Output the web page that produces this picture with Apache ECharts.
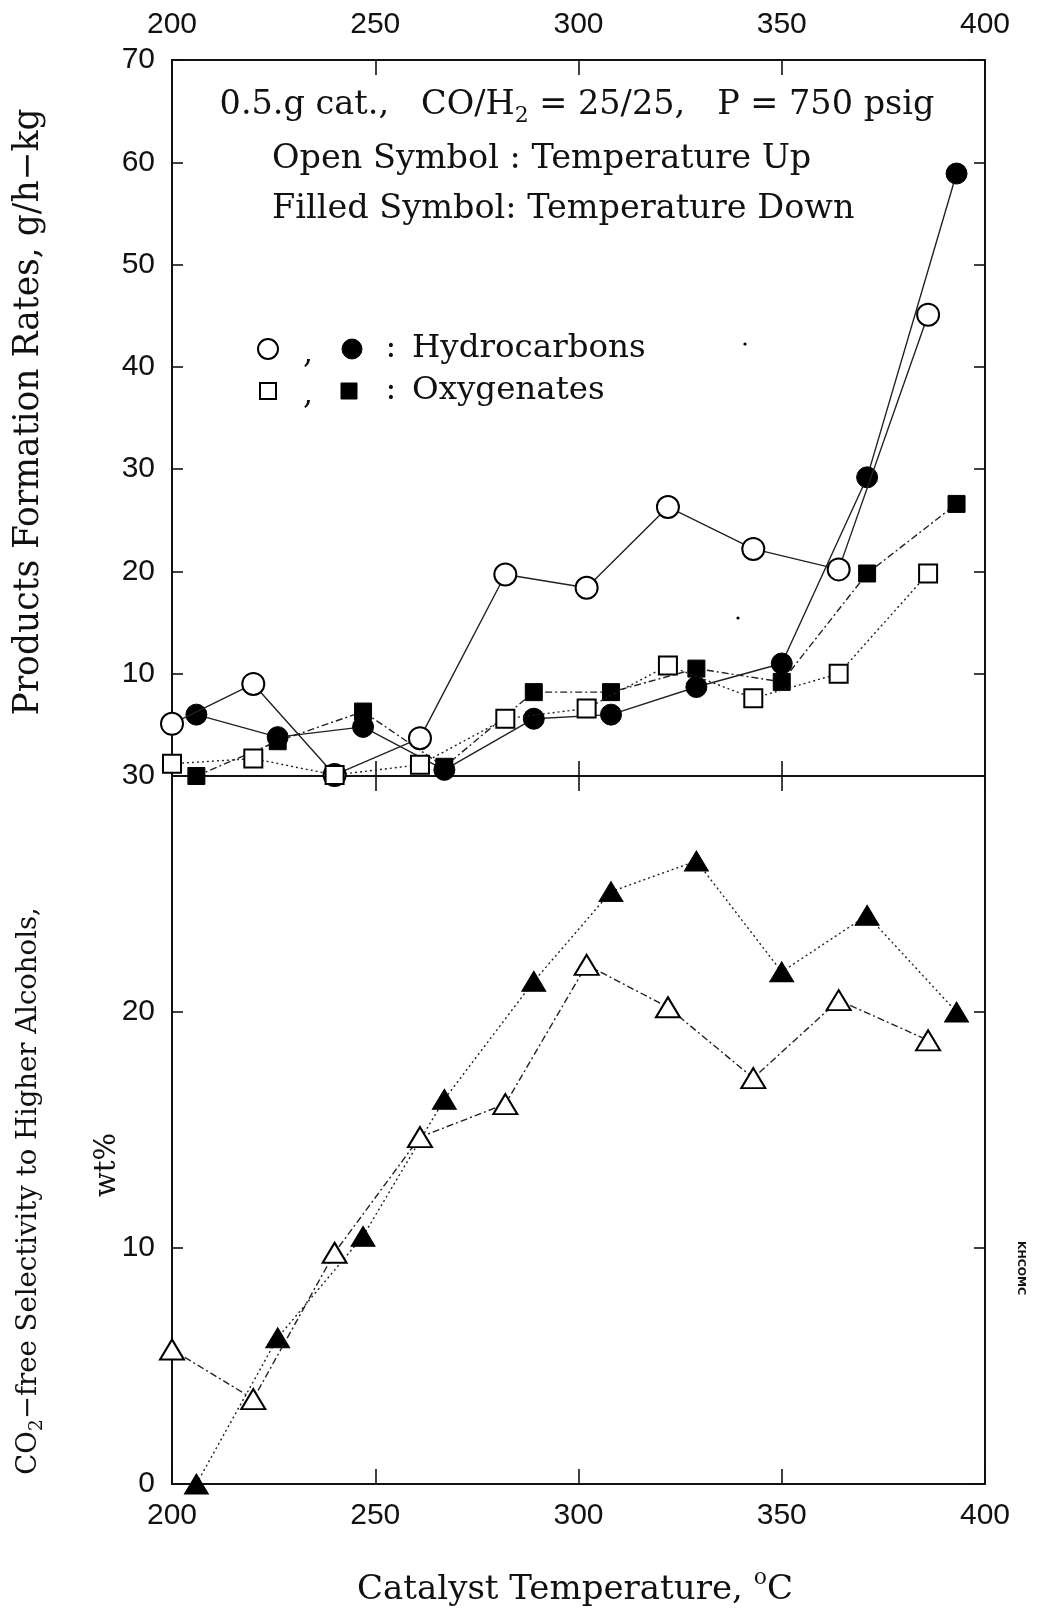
<!DOCTYPE html>
<html><head><meta charset="utf-8">
<script src="https://cdn.jsdelivr.net/npm/echarts@6/dist/echarts.min.js"></script>
<style>html,body{margin:0;padding:0;background:#fff}#c{width:1041px;height:1608px}</style>
</head><body><div id="c"></div>
<script>
// ---- data ----
const tempUp   = [200, 220, 240, 261, 282, 302, 322, 343, 364, 386];
const tempDown = [206, 226, 247, 267, 289, 308, 329, 350, 371, 393];
const hcUp     = [5.1, 9.0, 0.1, 3.7, 19.7, 18.4, 26.3, 22.2, 20.2, 45.1];
const hcDown   = [6.0, 3.8, 4.8, 0.6, 5.6, 6.0, 8.7, 11.0, 29.2, 58.9];
const oxyUp    = [1.2, 1.7, 0.1, 1.1, 5.6, 6.6, 10.8, 7.6, 10.0, 19.8];
const oxyDown  = [0.0, 3.4, 6.3, 0.9, 8.2, 8.2, 10.5, 9.2, 19.8, 26.6];
const selUp    = [5.7, 3.6, 9.8, 14.7, 16.1, 22.0, 20.2, 17.2, 20.5, 18.8];
const selDown  = [0.0, 6.2, 10.5, 16.3, 21.3, 25.1, 26.4, 21.7, 24.1, 20.0];
const xRange   = [200, 400, 50];
const rateRange = [0, 70, 10];
const selRange  = [0, 30, 10];

const pair = (xs, ys) => xs.map((x, i) => [x, ys[i]]);
const INK = '#111';
const TICKFONT = '"Liberation Sans Narrow", "Liberation Sans", sans-serif';
const SERIF = '"DejaVu Serif", serif';

function xAx(grid, pos, showLabel, margin) {
  return {
    type: 'value', gridIndex: grid, position: pos,
    min: xRange[0], max: xRange[1], interval: xRange[2],
    axisLine: { show: true, onZero: false, lineStyle: { color: INK, width: 2 } },
    axisTick: { show: true, inside: true, length: 15, lineStyle: { color: INK, width: 1.6 } },
    axisLabel: { show: showLabel, margin: margin || 8, fontSize: 30, color: INK, fontFamily: TICKFONT },
    splitLine: { show: false }
  };
}
function yAx(grid, pos, range, showLabel, hideZero) {
  return {
    type: 'value', gridIndex: grid, position: pos,
    min: range[0], max: range[1], interval: range[2],
    axisLine: { show: true, onZero: false, lineStyle: { color: INK, width: 2 } },
    axisTick: { show: true, inside: true, length: 11, lineStyle: { color: INK, width: 1.6 } },
    axisLabel: { show: showLabel, margin: 17, fontSize: 30, color: INK, fontFamily: TICKFONT,
      formatter: v => (hideZero && v === 0) ? '' : String(v) },
    splitLine: { show: false }
  };
}
function ser(name, xi, yi, xs, ys, symbol, size, filled, ltype) {
  return {
    name, type: 'line', xAxisIndex: xi, yAxisIndex: yi,
    data: pair(xs, ys), symbol, symbolSize: size, showAllSymbol: true,
    clip: false, animation: false, z: filled ? 3 : 4,
    itemStyle: filled ? { color: '#000', borderColor: '#000', borderWidth: 1 }
                      : { color: '#fff', borderColor: '#000', borderWidth: 2 },
    lineStyle: { color: '#222', width: 1.4, type: ltype },
    emphasis: { disabled: true }
  };
}

const chart = echarts.init(document.getElementById('c'), null, { renderer: 'canvas' });
chart.setOption({
  backgroundColor: '#fff',
  animation: false,
  grid: [
    { left: 172, right: 56, top: 60, height: 716 },
    { left: 172, right: 56, top: 776, height: 708 }
  ],
  xAxis: [
    xAx(0, 'top', true, 20),
    xAx(0, 'bottom', false),
    xAx(1, 'top', false),
    xAx(1, 'bottom', true, 17)
  ],
  yAxis: [
    yAx(0, 'left', rateRange, true, true),
    yAx(0, 'right', rateRange, false),
    yAx(1, 'left', selRange, true, false),
    yAx(1, 'right', selRange, false)
  ],
  series: [
    ser('Hydrocarbons (T up)', 0, 0, tempUp, hcUp, 'circle', 22, false, 'solid'),
    ser('Hydrocarbons (T down)', 0, 0, tempDown, hcDown, 'circle', 21, true, 'solid'),
    ser('Oxygenates (T up)', 0, 0, tempUp, oxyUp, 'rect', 18, false, [2, 3]),
    ser('Oxygenates (T down)', 0, 0, tempDown, oxyDown, 'rect', 17, true, [7, 3, 2, 3]),
    ser('Selectivity (T up)', 3, 2, tempUp, selUp, 'triangle', [24, 20], false, [7, 3, 2, 3]),
    ser('Selectivity (T down)', 3, 2, tempDown, selDown, 'triangle', [24, 20], true, [2, 3])
  ],
  graphic: [
    { type: 'text', x: 577, y: 105, z: 10, style: {
        text: '{a|0.5.g cat.,   CO/H}{s|2}{a| = 25/25,   P = 750 psig}',
        align: 'center', verticalAlign: 'middle',
        rich: { a: { fontSize: 33.5, fontFamily: SERIF, fill: INK },
                s: { fontSize: 22, fontFamily: SERIF, fill: INK, padding: [22, 0, 0, 0] } } } },
    { type: 'text', x: 272, y: 159, z: 10, style: { text: 'Open Symbol : Temperature Up',
        fontSize: 33.5, fontFamily: SERIF, fill: INK, align: 'left', verticalAlign: 'middle' } },
    { type: 'text', x: 272, y: 209, z: 10, style: { text: 'Filled Symbol: Temperature Down',
        fontSize: 33.5, fontFamily: SERIF, fill: INK, align: 'left', verticalAlign: 'middle' } },
    // legend
    { type: 'circle', z: 10, shape: { cx: 268, cy: 349, r: 10 }, style: { fill: '#fff', stroke: '#000', lineWidth: 2 } },
    { type: 'text', x: 308, y: 355, z: 10, style: { text: ',', fontSize: 32, fontFamily: SERIF, fill: INK, align: 'center', verticalAlign: 'middle' } },
    { type: 'circle', z: 10, shape: { cx: 352, cy: 349, r: 10 }, style: { fill: '#000', stroke: '#000', lineWidth: 1 } },
    { type: 'text', x: 391, y: 349, z: 10, style: { text: ':', fontSize: 32, fontFamily: SERIF, fill: INK, align: 'center', verticalAlign: 'middle' } },
    { type: 'text', x: 412, y: 349, z: 10, style: { text: 'Hydrocarbons', fontSize: 32.5, fontFamily: SERIF, fill: INK, align: 'left', verticalAlign: 'middle' } },
    { type: 'rect', z: 10, shape: { x: 260, y: 383, width: 16, height: 16 }, style: { fill: '#fff', stroke: '#000', lineWidth: 2 } },
    { type: 'text', x: 308, y: 396, z: 10, style: { text: ',', fontSize: 32, fontFamily: SERIF, fill: INK, align: 'center', verticalAlign: 'middle' } },
    { type: 'rect', z: 10, shape: { x: 341, y: 383, width: 16, height: 16 }, style: { fill: '#000', stroke: '#000', lineWidth: 1 } },
    { type: 'text', x: 391, y: 391, z: 10, style: { text: ':', fontSize: 32, fontFamily: SERIF, fill: INK, align: 'center', verticalAlign: 'middle' } },
    { type: 'text', x: 412, y: 391, z: 10, style: { text: 'Oxygenates', fontSize: 32.5, fontFamily: SERIF, fill: INK, align: 'left', verticalAlign: 'middle' } },
    // axis titles
    { type: 'text', x: 29, y: 412, rotation: Math.PI / 2, z: 10, style: {
        text: 'Products Formation Rates, g/h\u2212kg', fontSize: 34.5, fontFamily: SERIF, fill: INK,
        align: 'center', verticalAlign: 'middle' } },
    { type: 'text', x: 29, y: 1191, rotation: Math.PI / 2, z: 10, style: {
        text: '{a|CO}{s|2}{a|\u2212free Selectivity to Higher Alcohols,}', align: 'center', verticalAlign: 'middle',
        rich: { a: { fontSize: 27.5, fontFamily: SERIF, fill: INK },
                s: { fontSize: 19, fontFamily: SERIF, fill: INK, padding: [17, 0, 0, 0] } } } },
    { type: 'text', x: 107, y: 1165, rotation: Math.PI / 2, z: 10, style: {
        text: 'wt%', fontSize: 29, fontFamily: SERIF, fill: INK, align: 'center', verticalAlign: 'middle' } },
    { type: 'text', x: 575, y: 1590, z: 10, style: {
        text: '{a|Catalyst Temperature, }{s|o}{a|C}', align: 'center', verticalAlign: 'middle',
        rich: { a: { fontSize: 34, fontFamily: SERIF, fill: INK },
                s: { fontSize: 22, fontFamily: SERIF, fill: INK, padding: [0, 0, 24, 0] } } } },
    // small marks from the scan
    { type: 'text', x: 1021, y: 1268, rotation: -Math.PI / 2, z: 10, style: {
        text: 'KHCOMC', fontSize: 11, fontWeight: 'bold', fontFamily: '"DejaVu Sans", sans-serif', fill: INK,
        align: 'center', verticalAlign: 'middle' } },
    { type: 'circle', z: 10, shape: { cx: 745, cy: 344, r: 1.6 }, style: { fill: '#000' } },
    { type: 'circle', z: 10, shape: { cx: 738, cy: 618, r: 1.6 }, style: { fill: '#000' } }
  ]
});
</script>
</body></html>
